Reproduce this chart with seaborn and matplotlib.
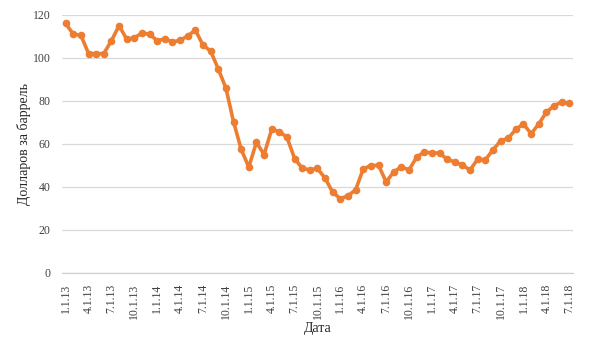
import numpy as np
import pandas as pd
import matplotlib
matplotlib.use("Agg")
import matplotlib.pyplot as plt
import seaborn as sns

# Monthly prices, Jan 2013 .. Jul 2018
prices_2013 = [116, 111, 110.5, 102, 102, 102, 108, 115, 108.7, 109.3, 111.5, 111]
prices_2014 = [108, 108.8, 107.4, 108.2, 110.2, 112.9, 105.9, 103.2, 94.8, 86, 70.3, 57.5]
prices_2015 = [49.2, 60.8, 55, 66.8, 65.7, 63.1, 53.2, 48.7, 47.9, 48.6, 44, 37.5]
prices_2016 = [34.5, 35.9, 38.6, 48.4, 49.9, 50.1, 42.3, 47, 49.3, 47.9, 53.8, 56.3]
prices_2017 = [55.7, 55.8, 52.8, 51.6, 50.1, 47.9, 52.9, 52.6, 57.2, 61.4, 62.6, 66.8]
prices_2018 = [69.3, 64.7, 69.3, 74.7, 77.8, 79.4, 78.9]

prices = prices_2013 + prices_2014 + prices_2015 + prices_2016 + prices_2017 + prices_2018
dates = pd.date_range("2013-01-01", periods=len(prices), freq="MS")
labels = [f"{d.month}.1.{d.year % 100:02d}" for d in dates]

df = pd.DataFrame({"idx": np.arange(len(prices)), "price": prices, "label": labels})

sns.set_style("white")
plt.rcParams["font.family"] = ["Liberation Serif", "DejaVu Serif"]

fig = plt.figure(figsize=(5.89, 3.54), dpi=100)
ax = fig.add_axes([0.105, 0.229, 0.868, 0.729])

sns.lineplot(data=df, x="idx", y="price", ax=ax, color="#ED7D31", linewidth=2.6,
             marker="o", markersize=5.5, markeredgewidth=0, zorder=3)

ax.set_ylim(0, 120)
ax.set_yticks(range(0, 121, 20))
ax.set_xlim(-0.5, len(prices) - 0.5)

major = df["idx"][::3]
ax.set_xticks(major)
ax.set_xticklabels(df["label"][::3], rotation=90)
ax.set_xticks(np.append(np.arange(-0.5, len(prices), 3), len(prices) - 0.5), minor=True)

ax.tick_params(axis="x", which="major", length=0, pad=8, labelsize=8.5, colors="#404040")
ax.tick_params(axis="x", which="minor", length=5, width=0.8, color="#d0d0d0", direction="out")
ax.tick_params(axis="y", length=0, pad=8, labelsize=8.5, colors="#404040")

ax.grid(axis="y", color="#d9d9d9", linewidth=0.9)
ax.grid(axis="x", visible=False)
for s in ["top", "right", "left"]:
    ax.spines[s].set_visible(False)
ax.spines["bottom"].set_color("#d0d0d0")
ax.spines["bottom"].set_linewidth(0.9)

ax.set_xlabel("Дата", fontsize=10, color="#262626", labelpad=2)
ax.set_ylabel("Долларов за баррель", fontsize=10, color="#262626", labelpad=1)

fig.savefig("out.png", dpi=100)
